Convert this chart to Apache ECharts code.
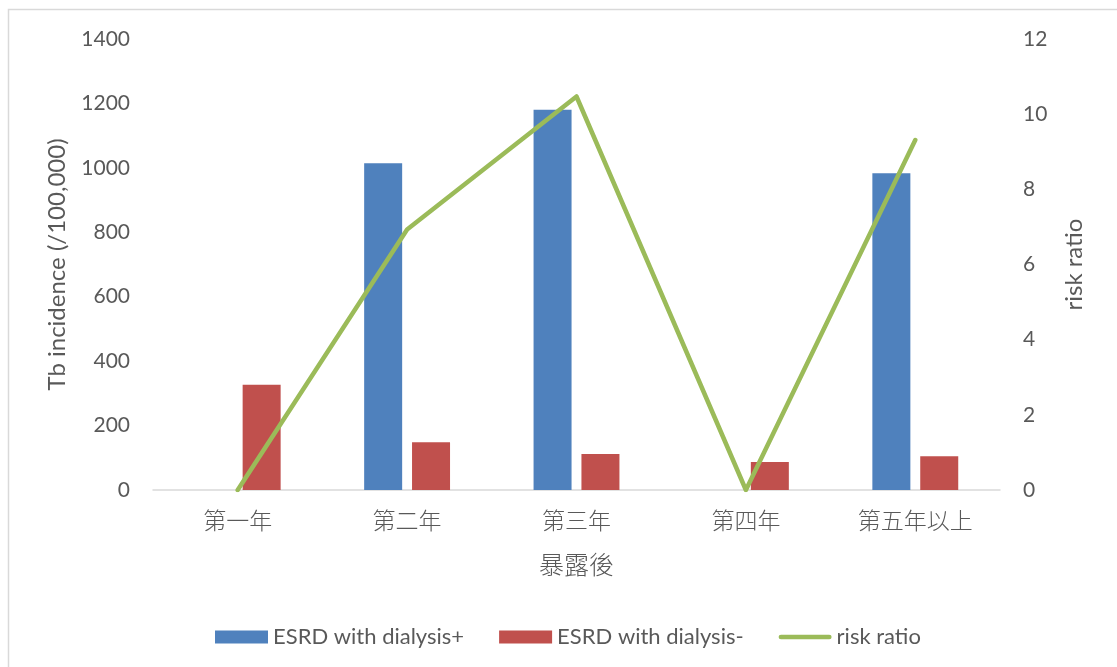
<!DOCTYPE html>
<html>
<head>
<meta charset="utf-8">
<script src="https://cdn.jsdelivr.net/npm/echarts@6/dist/echarts.min.js"></script>
<style>
  html, body { margin: 0; padding: 0; background: #fff; }
  #chart { width: 1117px; height: 667px; }
</style>
</head>
<body>
<div id="chart"></div>
<script>
// Exposure period after diagnosis
const categories = ['第一年', '第二年', '第三年', '第四年', '第五年以上'];
// TB incidence per 100,000
const dialysisPlus = [0, 1014, 1180, 0, 983];
const dialysisMinus = [327, 148, 112, 87, 105];
// Risk ratio (right axis)
const riskRatio = [0, 6.93, 10.47, 0, 9.31];

const latin = 'Lato, "Liberation Sans", sans-serif';
const cjk = '"Noto Sans CJK TC", "Noto Sans CJK SC", sans-serif';
const grey = '#595959';

// thin rounded bar used as the legend key of the line series
const lineKey = 'path://M2.5,0 H53.5 A2.5,2.5 0 0 1 53.5,5 H2.5 A2.5,2.5 0 0 1 2.5,0 Z';

const chart = echarts.init(document.getElementById('chart'), null, { renderer: 'canvas' });
chart.setOption({
  animation: false,
  backgroundColor: '#ffffff',
  graphic: [{
    type: 'rect',
    shape: { x: 8.5, y: 9.5, width: 1300, height: 900 },
    style: { fill: 'none', stroke: '#d9d9d9', lineWidth: 1.5 },
    silent: true
  }],
  grid: { left: 153, right: 117, top: 39, bottom: 177 },
  legend: {
    left: 210,
    top: 621,
    itemWidth: 53,
    itemHeight: 13,
    itemGap: 35,
    textStyle: { fontFamily: latin, fontSize: 22, color: grey },
    data: [
      { name: 'ESRD with dialysis+', icon: 'rect' },
      { name: 'ESRD with dialysis-', icon: 'rect' },
      { name: 'risk ratio', icon: lineKey, itemStyle: { color: '#9bbb59' } }
    ]
  },
  xAxis: {
    type: 'category',
    data: categories,
    name: '暴露後',
    nameLocation: 'middle',
    nameGap: 62,
    nameTextStyle: { fontFamily: cjk, fontSize: 25, fontWeight: 300, color: grey },
    axisLine: { show: true, lineStyle: { color: '#d9d9d9', width: 1.5 } },
    axisTick: { show: false },
    axisLabel: { fontFamily: cjk, fontSize: 23, fontWeight: 300, color: grey, margin: 19 }
  },
  yAxis: [{
    type: 'value',
    min: 0, max: 1400, interval: 200,
    name: 'Tb incidence (/100,000)',
    nameLocation: 'middle',
    nameRotate: 90,
    nameGap: 84,
    nameTextStyle: { fontFamily: latin, fontSize: 24, color: grey },
    axisLine: { show: false },
    axisTick: { show: false },
    splitLine: { show: false },
    axisLabel: { fontFamily: latin, fontSize: 21, color: grey, margin: 23, formatter: v => String(v) }
  }, {
    type: 'value',
    min: 0, max: 12, interval: 2,
    name: 'risk ratio',
    nameLocation: 'middle',
    nameRotate: 90,
    nameGap: 62,
    nameTextStyle: { fontFamily: latin, fontSize: 24, color: grey },
    axisLine: { show: false },
    axisTick: { show: false },
    splitLine: { show: false },
    axisLabel: { fontFamily: latin, fontSize: 21, color: grey, margin: 23 }
  }],
  series: [{
    name: 'ESRD with dialysis+',
    type: 'bar',
    data: dialysisPlus,
    barWidth: 38,
    barGap: '26%',
    itemStyle: { color: '#4f81bd' }
  }, {
    name: 'ESRD with dialysis-',
    type: 'bar',
    data: dialysisMinus,
    barWidth: 38,
    barGap: '26%',
    itemStyle: { color: '#c0504d' }
  }, {
    name: 'risk ratio',
    type: 'line',
    yAxisIndex: 1,
    data: riskRatio,
    symbol: 'none',
    lineStyle: { color: '#9bbb59', width: 4.5, cap: 'round', join: 'round' },
    itemStyle: { color: '#9bbb59' }
  }]
});
</script>
</body>
</html>
